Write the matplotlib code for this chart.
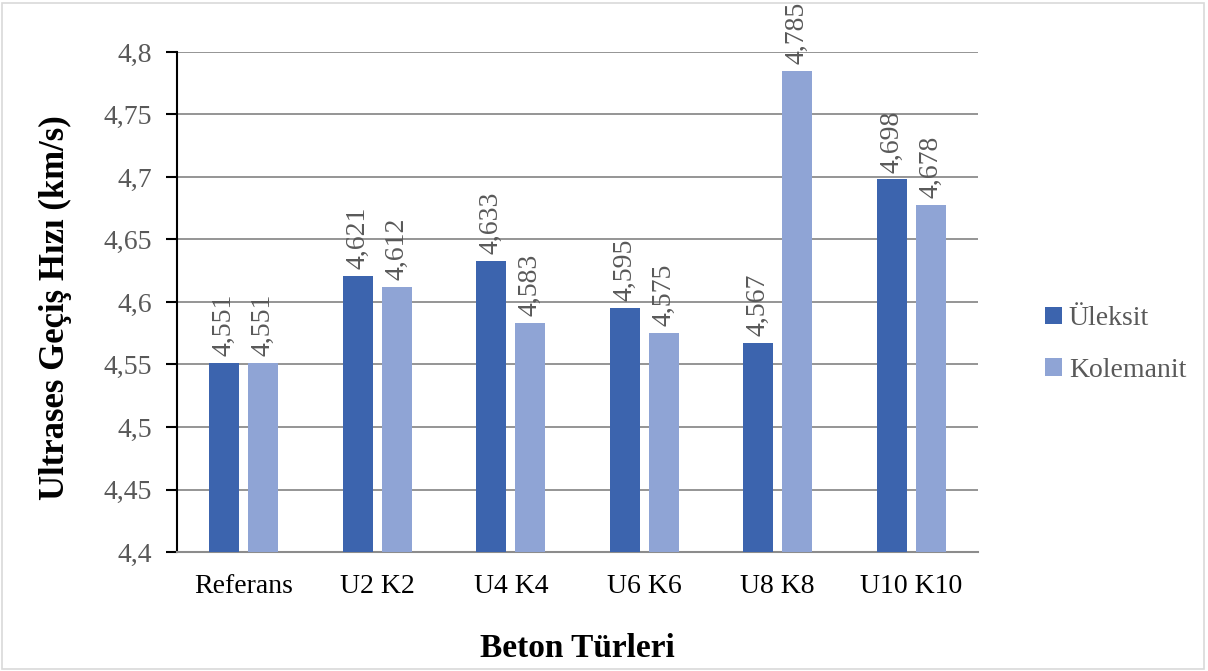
import numpy as np
import matplotlib.pyplot as plt
from matplotlib.patches import Rectangle
from matplotlib.ticker import FuncFormatter, MultipleLocator

# Ultrasonic pulse velocity per concrete mix
categories = ["Referans", "U2 K2", "U4 K4", "U6 K6", "U8 K8", "U10 K10"]
uleksit = [4.551, 4.621, 4.633, 4.595, 4.567, 4.698]
kolemanit = [4.551, 4.612, 4.583, 4.575, 4.785, 4.678]
series_names = ["Üleksit", "Kolemanit"]

plt.rcParams["font.family"] = ["Liberation Serif", "DejaVu Serif"]

dark_blue = "#3c64ae"
light_blue = "#8fa4d5"
label_gray = "#595959"

fig = plt.figure(figsize=(12.08, 6.71), dpi=100)
ax = fig.add_axes([177 / 1208, 1 - 552 / 671, (978 - 177) / 1208, 500 / 671])

# Thin light border around the whole chart
fig.patches.append(Rectangle((0.002, 0.003), 0.995, 0.993, transform=fig.transFigure,
                             fill=False, edgecolor="#d9d9d9", linewidth=1.2))

x = np.arange(len(categories))
width = 0.225
spacing = 0.29

bars1 = ax.bar(x - spacing / 2, uleksit, width, color=dark_blue, label=series_names[0], zorder=3)
bars2 = ax.bar(x + spacing / 2, kolemanit, width, color=light_blue, label=series_names[1], zorder=3)

for bars, vals in ((bars1, uleksit), (bars2, kolemanit)):
    for b, v in zip(bars, vals):
        ax.annotate(f"{v:.3f}".replace(".", ","), (b.get_x() + b.get_width() / 2, v),
                    xytext=(0, 5), textcoords="offset points", rotation=90,
                    ha="center", va="bottom", fontsize=20, color=label_gray, zorder=4)

ax.set_xlim(-0.5, len(categories) - 0.5)
ax.set_ylim(4.4, 4.8)
ax.yaxis.set_major_locator(MultipleLocator(0.05))
ax.yaxis.set_major_formatter(FuncFormatter(lambda v, p: f"{v:.2f}".rstrip("0").replace(".", ",")))
ax.set_xticks(x)
ax.set_xticklabels(categories)

ax.grid(axis="y", color="#8c8c8c", linewidth=1.3, zorder=0)
for side in ("top", "right"):
    ax.spines[side].set_visible(False)
ax.spines["bottom"].set_color("#8c8c8c")
ax.spines["bottom"].set_linewidth(1.5)
ax.spines["left"].set_color("black")
ax.spines["left"].set_linewidth(1.5)

ax.tick_params(axis="y", direction="out", length=8, width=1.5, color="black",
               labelsize=20, labelcolor=label_gray, pad=10)
ax.tick_params(axis="x", length=0, labelsize=20, labelcolor="black", pad=16)

ax.set_xlabel("Beton Türleri", fontsize=24, fontweight="bold", labelpad=24)
ax.set_ylabel("Ultrases Geçiş Hızı (km/s)", fontsize=25, fontweight="bold")
ax.yaxis.set_label_coords(-0.131, 0.488)

leg = ax.legend(loc="center left", bbox_to_anchor=(1.07, 0.415), frameon=False,
                fontsize=20, handlelength=0.6, handleheight=0.6, handletextpad=0.25,
                labelspacing=0.95, borderaxespad=0)
for t in leg.get_texts():
    t.set_color(label_gray)

fig.savefig("out.png", dpi=100)
